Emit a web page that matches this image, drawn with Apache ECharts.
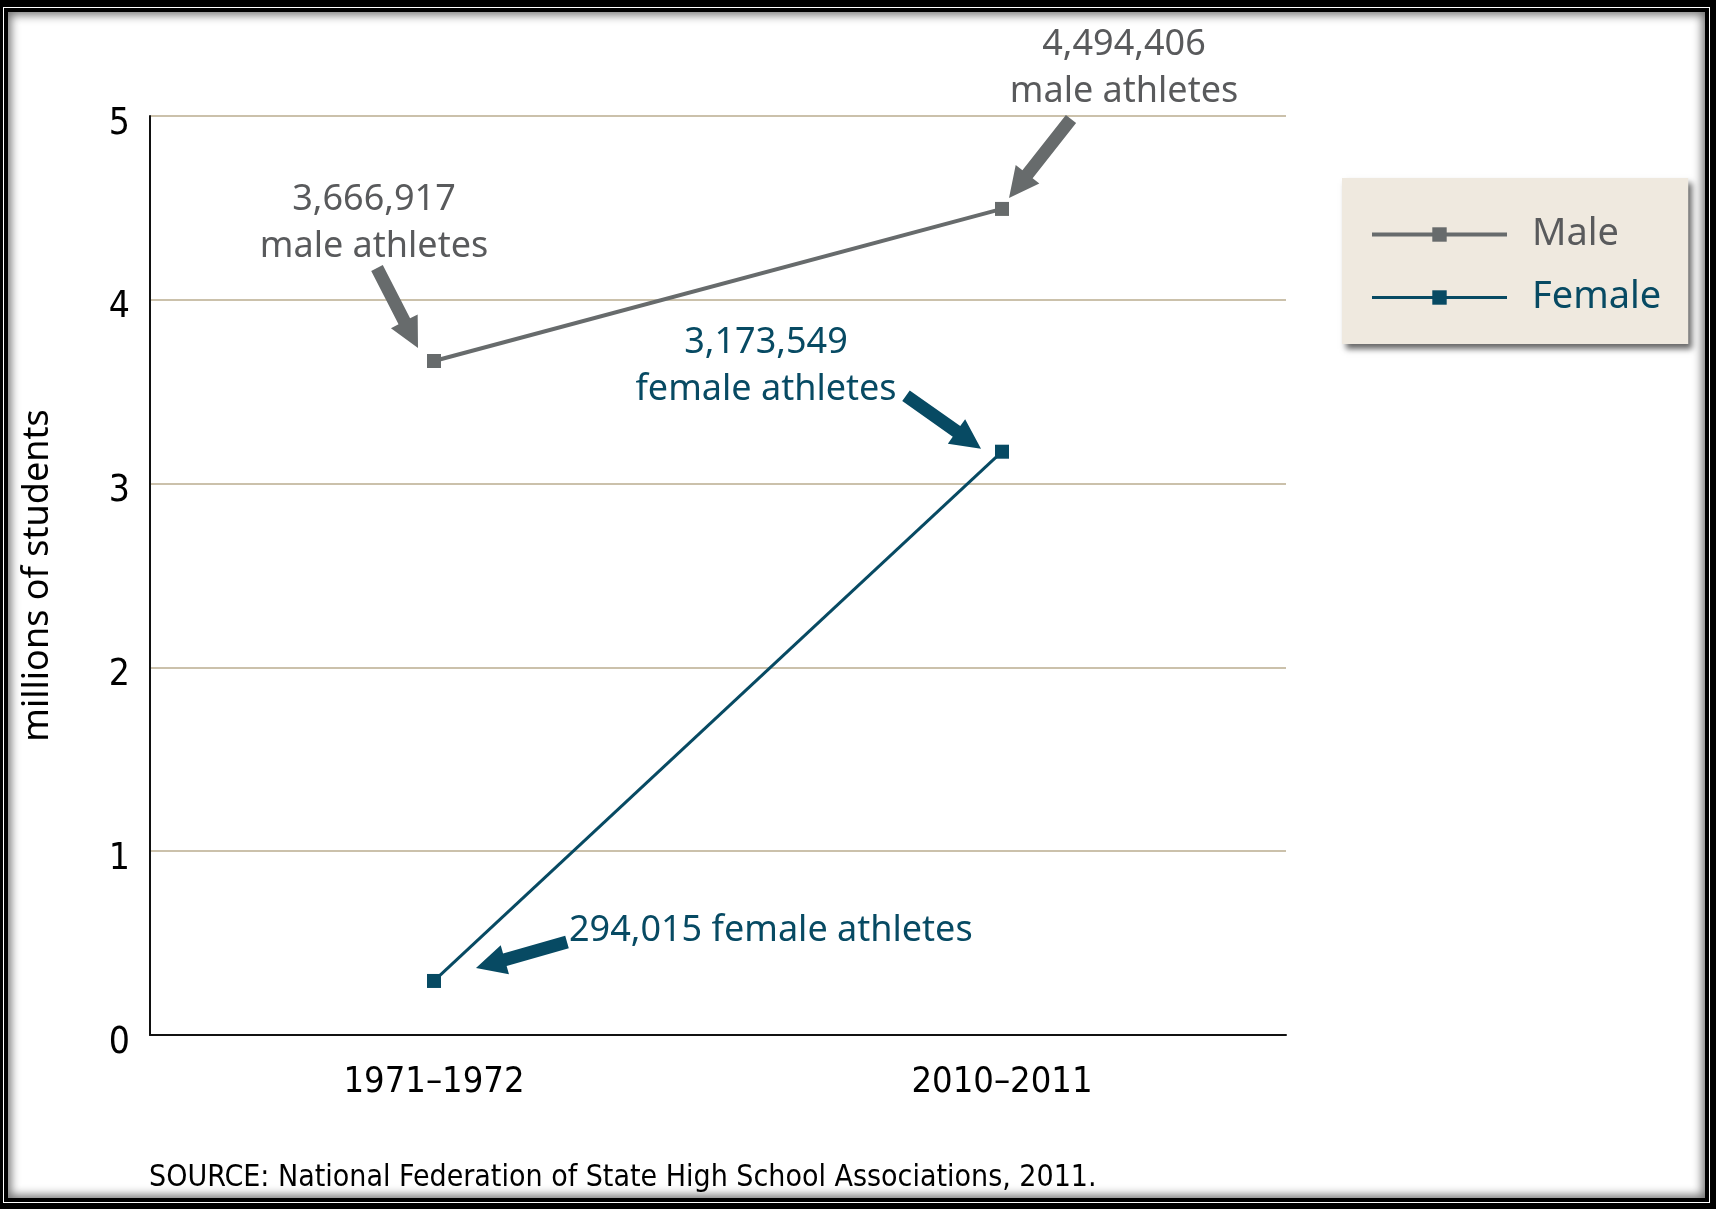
<!DOCTYPE html>
<html>
<head>
<meta charset="utf-8">
<script src="https://cdn.jsdelivr.net/npm/echarts@6/dist/echarts.min.js"></script>
<style>
    html, body { margin: 0; padding: 0; background: #000; }
    #outer { position: absolute; left: 3px; top: 7px; width: 1707px; height: 1196px; box-sizing: border-box; border: 1px solid #fff; }
    #inner { position: absolute; left: 0; top: 0; right: 0; bottom: 0; border: 4px solid #000; background: #fff; box-shadow: inset 0 0 10px 3px rgba(0,0,0,0.55); }
    #chart { position: absolute; left: 0; top: 0; width: 1716px; height: 1209px; }
</style>
</head>
<body>
<div id="outer"><div id="inner"></div></div>
<div id="chart"></div>
<script>
// data
var years = ['1971\u20131972', '2010\u20132011'];
var male = [3.666917, 4.494406];
var female = [0.294015, 3.173549];
var yTicks = [0, 1, 2, 3, 4, 5];
var maleNotes = ['3,666,917\nmale athletes', '4,494,406\nmale athletes'];
var femaleNotes = ['294,015 female athletes', '3,173,549\nfemale athletes'];

var GRAY = '#676b6c';
var GRAY_TXT = '#595a5c';
var TEAL = '#074a63';
var narrow = '"DejaVu Sans Condensed", "DejaVu Sans", sans-serif';
var sans = '"Noto Sans", sans-serif';

var chart = echarts.init(document.getElementById('chart'));

chart.setOption({
    animation: false,
    backgroundColor: 'transparent',
    grid: { left: 150, right: 430, top: 116, bottom: 174 },
    legend: {
        orient: 'vertical',
        left: 1342,
        top: 178,
        padding: [34, 27, 24, 28],
        itemGap: 18,
        itemWidth: 135,
        itemHeight: 18,
        backgroundColor: '#efe9df',
        shadowColor: 'rgba(0,0,0,0.6)',
        shadowBlur: 6,
        shadowOffsetX: 4,
        shadowOffsetY: 5,
        textStyle: { fontFamily: sans, fontSize: 38, lineHeight: 45, padding: [0, 0, 0, 20] },
        data: [
            { name: 'Male', textStyle: { color: GRAY_TXT }, lineStyle: { width: 4 } },
            { name: 'Female', textStyle: { color: TEAL }, lineStyle: { width: 3 } }
        ]
    },
    xAxis: {
        type: 'category',
        data: years,
        boundaryGap: true,
        axisLine: { lineStyle: { color: '#111', width: 2 } },
        axisTick: { alignWithLabel: true, inside: true, length: 20, lineStyle: { color: '#111', width: 1.5 } },
        axisLabel: { fontFamily: narrow, fontSize: 36, color: '#000', margin: 30 }
    },
    yAxis: {
        type: 'value',
        min: yTicks[0],
        max: yTicks[yTicks.length - 1],
        interval: 1,
        name: 'millions of students',
        nameLocation: 'middle',
        nameGap: 94,
        nameTextStyle: { fontFamily: sans, fontSize: 36, color: '#000' },
        axisLine: { show: true, lineStyle: { color: '#111', width: 2 } },
        axisTick: { show: false },
        axisLabel: { fontFamily: narrow, fontSize: 37, color: '#000', margin: 20, verticalAlign: 'top', lineHeight: 16 },
        splitLine: { lineStyle: { color: '#cbc1ab', width: 2 } }
    },
    series: [
        {
            name: 'Male', type: 'line', data: male,
            symbol: 'rect', symbolSize: 14,
            lineStyle: { color: GRAY, width: 4 },
            itemStyle: { color: GRAY }
        },
        {
            name: 'Female', type: 'line', data: female,
            symbol: 'rect', symbolSize: 14,
            lineStyle: { color: TEAL, width: 3 },
            itemStyle: { color: TEAL }
        }
    ]
});

// arrow polygon from start to tip
function arrow(sx, sy, tx, ty, color) {
    var dx = tx - sx, dy = ty - sy;
    var len = Math.sqrt(dx * dx + dy * dy);
    var ux = dx / len, uy = dy / len, nx = -uy, ny = ux;
    var sw = 6.5, hw = 15, hl = 30;
    var bx = tx - ux * hl, by = ty - uy * hl;
    return {
        type: 'polygon',
        shape: { points: [
            [sx + nx * sw, sy + ny * sw], [bx + nx * sw, by + ny * sw], [bx + nx * hw, by + ny * hw],
            [tx, ty],
            [bx - nx * hw, by - ny * hw], [bx - nx * sw, by - ny * sw], [sx - nx * sw, sy - ny * sw]
        ] },
        style: { fill: color },
        z: 10
    };
}

function note(x, y, txt, color, align) {
    return {
        type: 'text', x: x, y: y, z: 10,
        style: { text: txt, fill: color, font: '36px ' + sans, align: align || 'center', verticalAlign: 'middle', lineHeight: 47 }
    };
}

var m0 = chart.convertToPixel({ seriesIndex: 0 }, [0, male[0]]);
var m1 = chart.convertToPixel({ seriesIndex: 0 }, [1, male[1]]);
var f0 = chart.convertToPixel({ seriesIndex: 1 }, [0, female[0]]);
var f1 = chart.convertToPixel({ seriesIndex: 1 }, [1, female[1]]);

chart.setOption({
    graphic: [
        note(m0[0] - 60, m0[1] - 138, maleNotes[0], GRAY_TXT),
        arrow(m0[0] - 57, m0[1] - 93, m0[0] - 16, m0[1] - 13, GRAY),
        note(m1[0] + 122, m1[1] - 141, maleNotes[1], GRAY_TXT),
        arrow(m1[0] + 69, m1[1] - 90, m1[0] + 7, m1[1] - 11, GRAY),
        note(f1[0] - 236, f1[1] - 85, femaleNotes[1], TEAL),
        arrow(f1[0] - 96, f1[1] - 56, f1[0] - 21, f1[1] - 3, TEAL),
        note(f0[0] + 135, f0[1] - 50, femaleNotes[0], TEAL, 'left'),
        arrow(f0[0] + 133, f0[1] - 39, f0[0] + 42, f0[1] - 13, TEAL),
        {
            type: 'text', left: 149, top: 1163, z: 10,
            style: { text: 'SOURCE: National Federation of State High School Associations, 2011.', fill: '#000', font: '30px ' + narrow }
        }
    ]
});
</script>
</body>
</html>
